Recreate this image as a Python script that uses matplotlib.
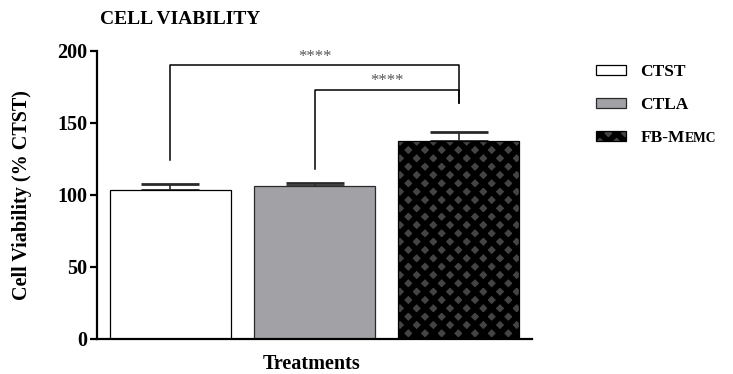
import matplotlib
matplotlib.use("Agg")
import matplotlib.pyplot as plt

plt.rcParams['font.family'] = ['Liberation Serif', 'DejaVu Serif']
plt.rcParams['hatch.linewidth'] = 4.2

# data
groups = ['CTST', 'CTLA', 'FB-MEMC']
means = [103.3, 106.0, 137.8]
errs = [4.0, 2.0, 6.0]
colors = ['white', '#a2a1a6', '#444444']
edges = ['black', '#2a2a2a', 'black']
hatches = [None, None, 'xx']

# significance brackets: (left group, right group, bar height, left leg end, right leg end, label)
sig_pairs = [(0, 2, 190, 124, 164, '****'),
             (1, 2, 173, 118, 164, '****')]

yticks = [0, 50, 100, 150, 200]

fig = plt.figure(figsize=(7.33, 3.74), dpi=100)
ax = fig.add_axes([97 / 733, 1 - 339 / 374, 435 / 733, 288 / 374])

x = list(range(len(groups)))
handles = []
for i in x:
    b = ax.bar(i, means[i], width=0.835, color=colors[i], edgecolor=edges[i],
               linewidth=0.9, hatch=hatches[i], label=groups[i], zorder=2)
    handles.append(b)

ax.errorbar(x, means, yerr=[[0] * len(errs), errs], fmt='none', ecolor='#2a2a2a',
            elinewidth=1.2, capsize=21, capthick=2.0, zorder=1)

for a, b, h, la, lb, lab in sig_pairs:
    ax.plot([a, a, b, b], [la, h, h, lb], color='black', lw=1.1, zorder=3)
    ax.text((a + b) / 2, h + 0.5, lab, ha='center', va='bottom', fontsize=12,
            color='#555555')

ax.set_xlim(-0.51, 2.51)
ax.set_ylim(0, 200)
ax.set_yticks(yticks)
ax.set_xticks([])
ax.spines['top'].set_visible(False)
ax.spines['right'].set_visible(False)
ax.spines['left'].set_linewidth(1.6)
ax.spines['bottom'].set_linewidth(1.6)
ax.tick_params(axis='y', length=5, width=1.6, pad=2, labelsize=14.5)
for t in ax.get_yticklabels():
    t.set_fontweight('bold')

fig.text(100 / 733, 1 - 19 / 374, 'CELL VIABILITY', fontsize=14, fontweight='bold',
         ha='left', va='center')
fig.text(22 / 733, 1 - 195 / 374, 'Cell Viability (% CTST)', fontsize=14.5,
         fontweight='bold', rotation=90, ha='center', va='center')
fig.text(312 / 733, 1 - 364 / 374, 'Treatments', fontsize=14.5, fontweight='bold',
         ha='center', va='center')

leg_fs = 12.5
leg_labels = ['CTST', 'CTLA', 'FB-M']
leg = ax.legend(handles, leg_labels, loc='upper left',
                bbox_to_anchor=(596 / 733, 1 - 64 / 374), bbox_transform=fig.transFigure,
                frameon=False, fontsize=leg_fs, handlelength=1.75, handleheight=0.5,
                handletextpad=0.8, labelspacing=0.98, borderpad=0, borderaxespad=0)
for t in leg.get_texts():
    t.set_fontweight('bold')

# small caps tail of "FB-MEMC"
last = leg.get_texts()[-1]
fig.canvas.draw()
ax.annotate('EMC', xy=(1, 0), xycoords=last, xytext=(0, 0.216 * leg_fs),
            textcoords='offset points', ha='left', va='baseline',
            fontsize=leg_fs * 0.78, fontweight='bold', annotation_clip=False)

fig.savefig('out.png', dpi=100)
